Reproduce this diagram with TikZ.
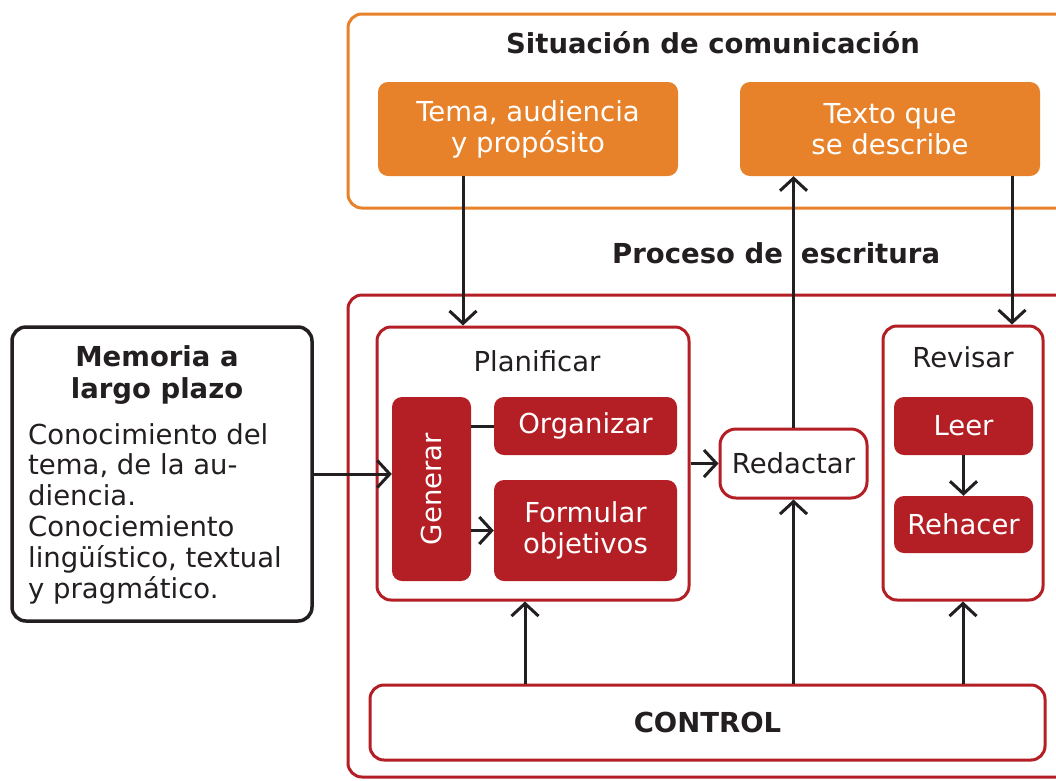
\documentclass[tikz,border=0pt]{standalone}
\usepackage{fontspec}
\setmainfont{DejaVu Sans}
\usetikzlibrary{arrows.meta}
\definecolor{orng}{HTML}{E8822A}
\definecolor{dred}{HTML}{B41F25}
\definecolor{ink}{HTML}{231F20}
\tikzset{
  orbox/.style={rectangle, rounded corners=10pt, fill=orng, draw=none, text=white, font=\fontsize{27.5}{31}\selectfont, align=center, inner sep=0pt},
  redbox/.style={rectangle, rounded corners=10pt, fill=dred, draw=none, text=white, font=\fontsize{27.5}{31}\selectfont, align=center, inner sep=0pt},
  frame/.style={rectangle, rounded corners=14pt, draw=dred, line width=3pt, fill=white, inner sep=0pt},
  lbl/.style={text=ink, font=\fontsize{27.5}{31}\selectfont, inner sep=0pt},
  blbl/.style={text=ink, font=\fontsize{27.5}{31}\selectfont\bfseries, inner sep=0pt},
  arr/.style={draw=ink, line width=3pt, -{Straight Barb[length=12.5pt,width=27pt]}},
  ln/.style={draw=ink, line width=3pt},
}
\begin{document}
\begin{tikzpicture}[x=1pt,y=-1pt]
\clip (0,0) rectangle (1056,780);
\fill[white] (0,0) rectangle (1056,780);
% situation box
\node[rectangle, rounded corners=14pt, draw=orng, line width=3pt, minimum width=727pt, minimum height=194pt, inner sep=0pt] (sit) at (711.5,111) {};
\node[blbl] (sittitle) at (713,43) {Situación de comunicación};
\node[orbox, minimum width=300pt, minimum height=94pt] (tema) at (528,129) {Tema, audiencia\\y propósito};
\node[orbox, minimum width=300pt, minimum height=94pt] (texto) at (890,129) {Texto que\\se describe};
% process
\node[blbl, anchor=west] (proc) at (612,253) {Proceso de\hspace{18pt}escritura};
\node[frame, minimum width=727pt, minimum height=482pt] (procbox) at (711.5,536) {};
% planificar
\node[frame, minimum width=312pt, minimum height=273pt] (plan) at (533,463.5) {};
\node[lbl] (planlbl) at (537,361) {Planificar};
\node[redbox, minimum width=79pt, minimum height=184pt] (gen) at (431.5,489) {\rotatebox{90}{Generar}};
\node[redbox, minimum width=183pt, minimum height=58pt] (org) at (585.5,426) {Organizar};
\node[redbox, minimum width=183pt, minimum height=101pt] (form) at (585.5,530.5) {Formular\\objetivos};
% redactar
\node[frame, rounded corners=16pt, minimum width=147pt, minimum height=69pt, font=\fontsize{27.5}{31}\selectfont, text=ink] (red) at (793.5,463.5) {Redactar};
% revisar
\node[frame, minimum width=160pt, minimum height=274pt] (rev) at (963,463) {};
\node[lbl] (revlbl) at (963,357) {Revisar};
\node[redbox, minimum width=139pt, minimum height=58pt] (leer) at (963.5,426) {Leer};
\node[redbox, minimum width=139pt, minimum height=57pt] (reh) at (963.5,524.5) {Rehacer};
% control
\node[frame, minimum width=675pt, minimum height=75pt, font=\fontsize{27.5}{31}\selectfont\bfseries, text=ink] (ctrl) at (707.5,722.5) {CONTROL};
% memoria
\node[rectangle, rounded corners=14pt, draw=ink, line width=3.5pt, minimum width=300pt, minimum height=294pt, inner sep=0pt] (mem) at (162,474) {};
\node[blbl, align=center, font=\fontsize{27.5}{32}\selectfont\bfseries] (memtitle) at (157,375) {Memoria a\\largo plazo};
\node[lbl, align=left, anchor=north west, font=\fontsize{27.5}{30.8}\selectfont] (membody) at (28,423) {Conocimiento del\\tema, de la au-\\diencia.\\Conociemiento\\lingüístico, textual\\y pragmático.};
% helper x positions
\coordinate (xa) at (463,0);
\coordinate (xb) at (1012,0);
\coordinate (xc) at (525,0);
% connectors
\draw[arr] (xa |- tema.south) -- (xa |- plan.north);
\draw[arr] (xb |- texto.south) -- (xb |- rev.north);
\draw[arr] (red.north) -- (red.north |- texto.south);
\draw[arr] (red.south |- ctrl.north) -- (red.south);
\draw[arr] (xc |- ctrl.north) -- (xc |- plan.south);
\draw[arr] (rev.south |- ctrl.north) -- (rev.south);
\draw[arr] (mem.east) -- (mem.east -| gen.west);
\draw[arr] (plan.east) -- (red.west);
\draw[ln] (gen.east |- org.west) -- (org.west);
\draw[arr] (gen.east |- form.west) -- (form.west);
\draw[arr] (leer.south) -- (reh.north);
\end{tikzpicture}
\end{document}
